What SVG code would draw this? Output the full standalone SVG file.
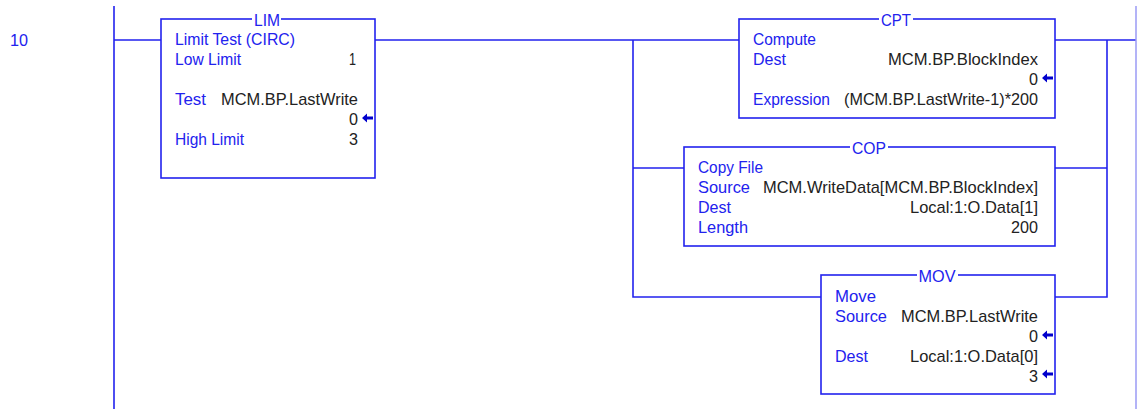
<svg xmlns="http://www.w3.org/2000/svg" width="1137" height="409" viewBox="0 0 1137 409">
<style>
text{font-family:"Liberation Sans",Arial,sans-serif;font-size:17px}
.l{fill:#2222ee}
.v{fill:#222;text-anchor:end}
.t{fill:#2222ee;text-anchor:middle}
.box{fill:#fff;stroke:#2222ee;stroke-width:1.6}
.w{fill:none;stroke:#2222ee;stroke-width:1.6}
.a{fill:#0000cc}
</style>
<defs><path id="arr" class="a" d="M0 0l5-4.500v3h6v3h-6v3z"/></defs>
<rect width="1137" height="409" fill="#fff"/>
<g id="connectors">
<path class="w" d="M114 6V409M114 40H161M375 40H739M633 40V297H821M633 168H684M1055 40H1136M1055 168H1107M1055 297H1107V40"/>
<path d="M1136 6V409" fill="none" stroke="#9a9af5" stroke-width="1.500"/>
</g>
<text id="rung" class="l" x="10" y="46" textLength="18" lengthAdjust="spacingAndGlyphs">10</text>
<g id="lim">
<rect class="box" x="161" y="19" width="214" height="159"/>
<rect x="252" y="16" width="29" height="6" fill="#fff"/>
<text class="t" x="267" y="26" textLength="26" lengthAdjust="spacingAndGlyphs">LIM</text>
<text class="l" x="175" y="45" textLength="120" lengthAdjust="spacingAndGlyphs">Limit Test (CIRC)</text>
<text class="l" x="175" y="65" textLength="66" lengthAdjust="spacingAndGlyphs">Low Limit</text>
<text class="v" x="356" y="65" textLength="7" lengthAdjust="spacingAndGlyphs">1</text>
<text class="l" x="175" y="105" textLength="31" lengthAdjust="spacingAndGlyphs">Test</text>
<text class="v" x="358" y="105" textLength="137" lengthAdjust="spacingAndGlyphs">MCM.BP.LastWrite</text>
<text class="v" x="358" y="125" textLength="9" lengthAdjust="spacingAndGlyphs">0</text>
<use href="#arr" x="362" y="118"/>
<text class="l" x="175" y="145" textLength="69" lengthAdjust="spacingAndGlyphs">High Limit</text>
<text class="v" x="358" y="145" textLength="9" lengthAdjust="spacingAndGlyphs">3</text>
</g>
<g id="cpt">
<rect class="box" x="739" y="19" width="316" height="99"/>
<rect x="879" y="16" width="34" height="6" fill="#fff"/>
<text class="t" x="896" y="26" textLength="30" lengthAdjust="spacingAndGlyphs">CPT</text>
<text class="l" x="753" y="45" textLength="63" lengthAdjust="spacingAndGlyphs">Compute</text>
<text class="l" x="753" y="65" textLength="33" lengthAdjust="spacingAndGlyphs">Dest</text>
<text class="v" x="1038" y="65" textLength="150" lengthAdjust="spacingAndGlyphs">MCM.BP.BlockIndex</text>
<text class="v" x="1038" y="85" textLength="9" lengthAdjust="spacingAndGlyphs">0</text>
<use href="#arr" x="1042" y="78"/>
<text class="l" x="753" y="105" textLength="77" lengthAdjust="spacingAndGlyphs">Expression</text>
<text class="v" x="1038" y="105" textLength="194" lengthAdjust="spacingAndGlyphs">(MCM.BP.LastWrite-1)*200</text>
</g>
<g id="cop">
<rect class="box" x="684" y="147" width="371" height="99"/>
<rect x="850" y="144" width="38" height="6" fill="#fff"/>
<text class="t" x="869" y="154" textLength="34" lengthAdjust="spacingAndGlyphs">COP</text>
<text class="l" x="698" y="173" textLength="65" lengthAdjust="spacingAndGlyphs">Copy File</text>
<text class="l" x="698" y="193" textLength="52" lengthAdjust="spacingAndGlyphs">Source</text>
<text class="v" x="1038" y="193" textLength="275" lengthAdjust="spacingAndGlyphs">MCM.WriteData[MCM.BP.BlockIndex]</text>
<text class="l" x="698" y="213" textLength="33" lengthAdjust="spacingAndGlyphs">Dest</text>
<text class="v" x="1038" y="213" textLength="128" lengthAdjust="spacingAndGlyphs">Local:1:O.Data[1]</text>
<text class="l" x="698" y="233" textLength="50" lengthAdjust="spacingAndGlyphs">Length</text>
<text class="v" x="1038" y="233" textLength="27" lengthAdjust="spacingAndGlyphs">200</text>
</g>
<g id="mov">
<rect class="box" x="821" y="275" width="234" height="119"/>
<rect x="917" y="272" width="41" height="6" fill="#fff"/>
<text class="t" x="937" y="282" textLength="37" lengthAdjust="spacingAndGlyphs">MOV</text>
<text class="l" x="835" y="302" textLength="41" lengthAdjust="spacingAndGlyphs">Move</text>
<text class="l" x="835" y="322" textLength="52" lengthAdjust="spacingAndGlyphs">Source</text>
<text class="v" x="1038" y="322" textLength="137" lengthAdjust="spacingAndGlyphs">MCM.BP.LastWrite</text>
<text class="v" x="1038" y="342" textLength="9" lengthAdjust="spacingAndGlyphs">0</text>
<use href="#arr" x="1042" y="335"/>
<text class="l" x="835" y="362" textLength="33" lengthAdjust="spacingAndGlyphs">Dest</text>
<text class="v" x="1038" y="362" textLength="128" lengthAdjust="spacingAndGlyphs">Local:1:O.Data[0]</text>
<text class="v" x="1038" y="382" textLength="9" lengthAdjust="spacingAndGlyphs">3</text>
<use href="#arr" x="1042" y="374"/>
</g>
</svg>
